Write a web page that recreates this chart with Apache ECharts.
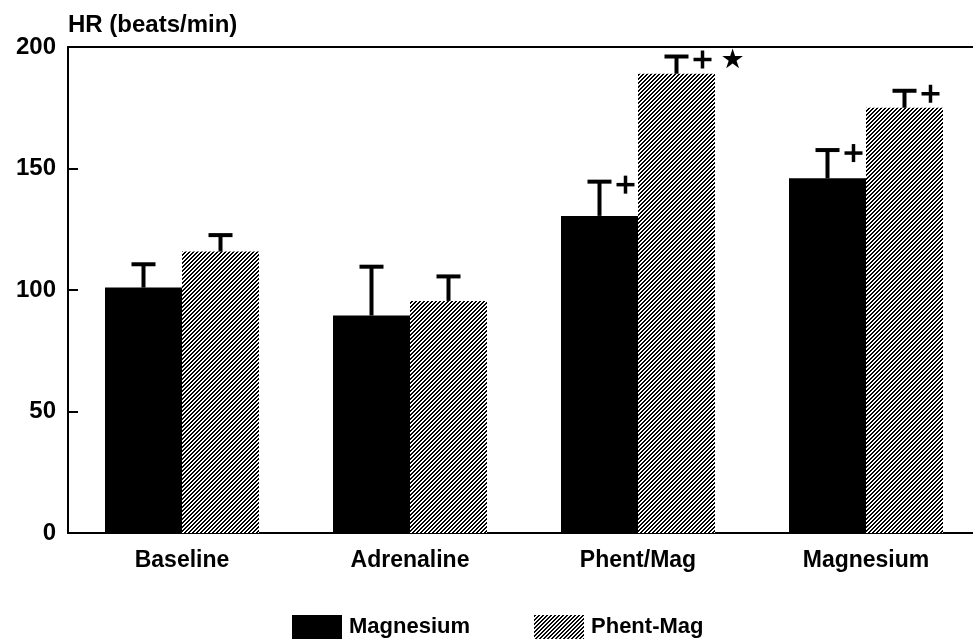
<!DOCTYPE html>
<html>
<head>
<meta charset="utf-8">
<script src="https://cdn.jsdelivr.net/npm/echarts@6/dist/echarts.min.js"></script>
<style>
html,body{margin:0;padding:0;background:#fff;overflow:hidden;width:973px;height:641px;}
#c{width:980px;height:641px;}
</style>
</head>
<body>
<div id="c"></div>
<script>
var categories = ['Baseline', 'Adrenaline', 'Phent/Mag', 'Magnesium'];
var seriesNames = ['Magnesium', 'Phent-Mag'];
var magnesiumMean = [101, 89.5, 130.5, 146];
var magnesiumSD = [10, 20.5, 14.5, 12];
var magnesiumMarks = ['', '', '+', '+'];
var phentMagMean = [115.8, 95.5, 189, 175];
var phentMagSD = [7.2, 10.5, 7.5, 7.4];
var phentMagMarks = ['', '', '+*', '+'];
var yTicks = [0, 50, 100, 150, 200];

var FONT = '"Liberation Sans", Arial, Helvetica, sans-serif';

// hatch pattern
var pc = document.createElement('canvas');
pc.width = 4; pc.height = 4;
var pctx = pc.getContext('2d');
pctx.fillStyle = '#fff';
pctx.fillRect(0, 0, 4, 4);
pctx.fillStyle = '#000';
for (var px = 0; px < 4; px++) {
  for (var py = 0; py < 4; py++) {
    if ((px + py) % 4 < 2) pctx.fillRect(px, py, 1, 1);
  }
}
var hatch = { image: pc, repeat: 'repeat' };

var BAR_W = 77;

function errData(means, sds, marks) {
  return means.map(function (m, i) { return [i, m, sds[i], marks[i]]; });
}

function makeErr(offsetSign, means, sds, marks) {
  return {
    type: 'custom',
    xAxisIndex: 0,
    z: 10,
    silent: true,
    encode: { x: 0, y: 1 },
    data: errData(means, sds, marks),
    renderItem: function (params, api) {
      var idx = api.value(0);
      var mean = api.value(1);
      var sd = api.value(2);
      var mk = marks[params.dataIndex] || '';
      var base = api.coord([idx, mean]);
      var top = api.coord([idx, mean + sd]);
      var x = base[0] + offsetSign * BAR_W / 2;
      var children = [
        { type: 'line', shape: { x1: x, y1: base[1], x2: x, y2: top[1] + 1 },
          style: { stroke: '#000', lineWidth: 4 } },
        { type: 'line', shape: { x1: x - 12, y1: top[1] + 1, x2: x + 12, y2: top[1] + 1 },
          style: { stroke: '#000', lineWidth: 4 } }
      ];
      for (var k = 0; k < mk.length; k++) {
        var ch = mk.charAt(k);
        if (ch === '+') {
          var cx = x + 26 + k * 28, cy = top[1] + 4;
          children.push({ type: 'line', shape: { x1: cx - 9, y1: cy, x2: cx + 9, y2: cy },
            style: { stroke: '#000', lineWidth: 3.5 } });
          children.push({ type: 'line', shape: { x1: cx, y1: cy - 9, x2: cx, y2: cy + 9 },
            style: { stroke: '#000', lineWidth: 3.5 } });
        } else {
          children.push({ type: 'text', x: x + 28 + k * 28, y: top[1] + 5,
            style: { text: '\u2605', fill: '#000', font: 'bold 27px "DejaVu Sans", sans-serif',
              align: 'center', verticalAlign: 'middle' } });
        }
      }
      return { type: 'group', children: children };
    }
  };
}

var chart = echarts.init(document.getElementById('c'));
chart.setOption({
  animation: false,
  backgroundColor: '#fff',
  textStyle: { fontFamily: FONT },
  grid: { left: 68, top: 47, right: 0, bottom: 108, containLabel: false },
  legend: {
    left: 287, top: 610,
    itemWidth: 50, itemHeight: 24, itemGap: 64,
    icon: 'rect',
    textStyle: { fontFamily: FONT, fontSize: 22, fontWeight: 'bold', color: '#000', padding: [0, 0, 0, 2] },
    data: seriesNames
  },
  xAxis: [{
    type: 'category',
    data: categories,
    axisLine: { lineStyle: { color: '#000', width: 2 } },
    axisTick: { show: false },
    axisLabel: { color: '#000', fontFamily: FONT, fontSize: 23, fontWeight: 'bold', margin: 16 }
  }, {
    type: 'category',
    data: categories,
    position: 'top',
    axisLine: { show: true, onZero: false, lineStyle: { color: '#000', width: 2 } },
    axisTick: { show: false },
    axisLabel: { show: false }
  }],
  yAxis: {
    type: 'value',
    min: yTicks[0], max: yTicks[yTicks.length - 1], interval: 50,
    name: 'HR (beats/min)',
    nameLocation: 'end',
    nameGap: 10,
    nameTextStyle: { color: '#000', fontFamily: FONT, fontSize: 24, fontWeight: 'bold', align: 'left', padding: [0, 0, 0, 0] },
    axisLine: { show: true, lineStyle: { color: '#000', width: 2 } },
    axisTick: { show: true, inside: true, length: 10, lineStyle: { color: '#000', width: 2 } },
    splitLine: { show: false },
    axisLabel: { color: '#000', fontFamily: FONT, fontSize: 24, fontWeight: 'bold', margin: 12 }
  },
  series: [{
    name: seriesNames[0], type: 'bar', xAxisIndex: 0,
    data: magnesiumMean, barWidth: BAR_W, barGap: '0%',
    itemStyle: { color: '#000' }
  }, {
    name: seriesNames[1], type: 'bar', xAxisIndex: 0,
    data: phentMagMean, barWidth: BAR_W, barGap: '0%',
    itemStyle: { color: hatch }
  },
  makeErr(-1, magnesiumMean, magnesiumSD, magnesiumMarks),
  makeErr(1, phentMagMean, phentMagSD, phentMagMarks)
  ]
});
</script>
</body>
</html>
